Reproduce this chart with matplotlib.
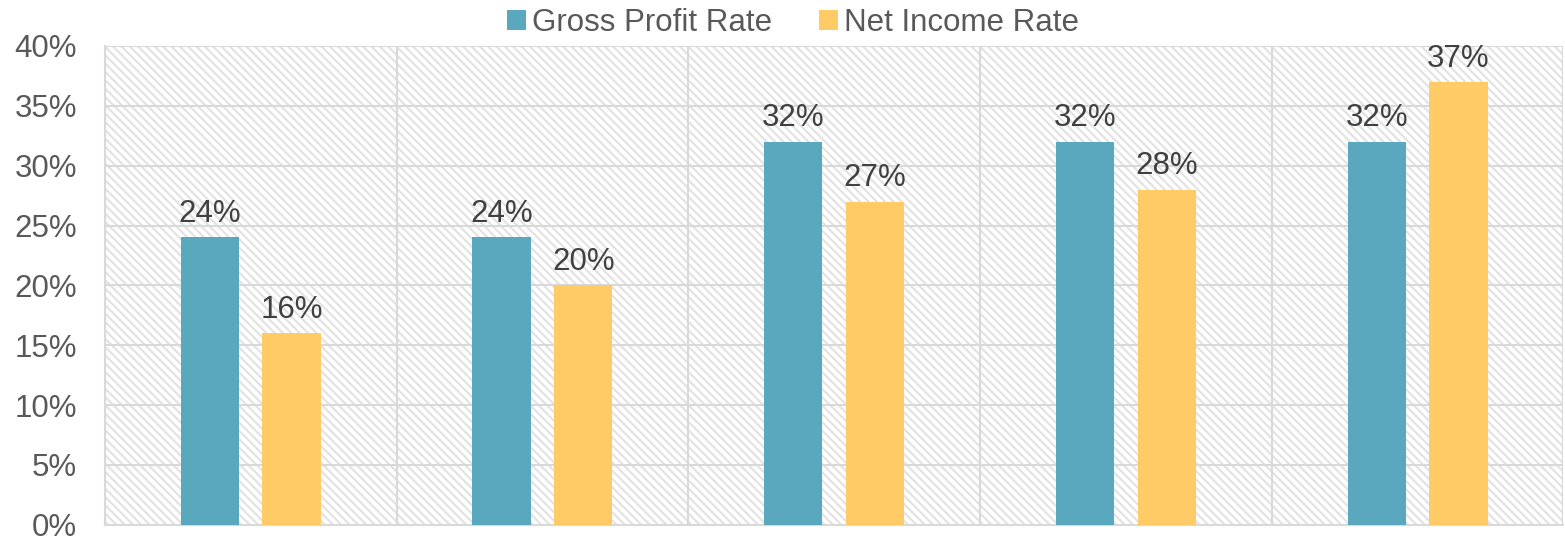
import numpy as np
import matplotlib.pyplot as plt
from matplotlib.patches import Rectangle
from matplotlib.ticker import FuncFormatter

plt.rcParams['font.family'] = ['Liberation Sans', 'DejaVu Sans']
plt.rcParams['hatch.linewidth'] = 1.6
plt.rcParams['hatch.color'] = '#E3E3E3'

categories = ['1', '2', '3', '4', '5']
gross_profit = [24, 24, 32, 32, 32]
net_income = [16, 20, 27, 28, 37]
series_names = ['Gross Profit Rate', 'Net Income Rate']

blue = '#59A8BE'
yellow = '#FFCB66'
grid_col = '#D9D9D9'

fig = plt.figure(figsize=(15.65, 5.41), dpi=100)
ax = fig.add_axes([0.067, 0.03, 0.932, 0.885])

x = np.arange(len(categories))
w = 0.2
off = 0.14

# hatched background
ax.add_patch(Rectangle((0, 0), 1, 1, transform=ax.transAxes, facecolor='white',
                       edgecolor='#E3E3E3', hatch='\\\\\\\\', linewidth=0, zorder=0))

b1 = ax.bar(x - off, gross_profit, w, color=blue, zorder=3, label=series_names[0])
b2 = ax.bar(x + off, net_income, w, color=yellow, zorder=3, label=series_names[1])

for bars, vals in [(b1, gross_profit), (b2, net_income)]:
    for r, v in zip(bars, vals):
        ax.text(r.get_x() + r.get_width() / 2, v + 0.7, f'{v}%', ha='center', va='bottom',
                fontsize=22.5, color='#404040', zorder=4)

ax.set_xlim(-0.5, len(categories) - 0.5)
ax.set_ylim(0, 40)
ax.set_yticks(np.arange(0, 41, 5))
ax.yaxis.set_major_formatter(FuncFormatter(lambda v, p: f'{int(v)}%'))
ax.set_xticks([])

# grid
for yv in np.arange(5, 41, 5):
    ax.axhline(yv, color=grid_col, lw=1.5, zorder=1)
for xv in np.arange(-0.5, len(categories) + 0.5, 1):
    ax.axvline(xv, color=grid_col, lw=1.5, zorder=1)

for s in ['top', 'right']:
    ax.spines[s].set_visible(False)
for s in ['left', 'bottom']:
    ax.spines[s].set_color(grid_col)
    ax.spines[s].set_linewidth(1.5)
ax.tick_params(axis='y', length=0, labelsize=22.5, labelcolor='#595959', pad=20)

leg = fig.legend(handles=[b1, b2], labels=series_names, loc='upper center',
                 bbox_to_anchor=(0.507, 1.037), ncol=2, frameon=False, fontsize=22.5,
                 handlelength=0.6, handleheight=0.6, handletextpad=0.2, columnspacing=1.5)
for t in leg.get_texts():
    t.set_color('#595959')

fig.savefig('out.png', dpi=100)
